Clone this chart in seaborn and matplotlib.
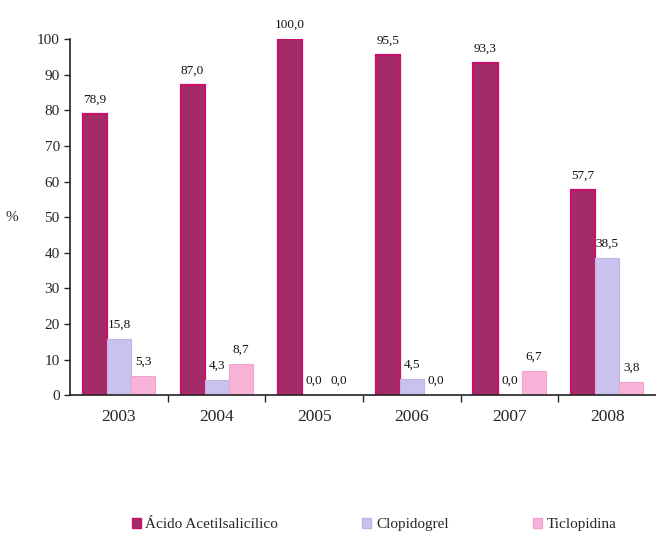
import matplotlib
matplotlib.use('Agg')
import matplotlib.pyplot as plt
import seaborn as sns
import pandas as pd
import numpy as np

# Data
years = ['2003', '2004', '2005', '2006', '2007', '2008']
acido = [78.9, 87.0, 100.0, 95.5, 93.3, 57.7]
clopidogrel = [15.8, 4.3, 0.0, 4.5, 0.0, 38.5]
ticlopidina = [5.3, 8.7, 0.0, 0.0, 6.7, 3.8]
series = ['Ácido Acetilsalicílico', 'Clopidogrel', 'Ticlopidina']

df = pd.DataFrame({
    'Año': years * 3,
    'Valor': acido + clopidogrel + ticlopidina,
    'Fármaco': [s for s in series for _ in years],
})

sns.set_style('white')
plt.rcParams['font.family'] = ['Liberation Serif', 'DejaVu Serif']

fills = ['#A32C68', '#C9C2EE', '#F8B4D8']
edges = ['#C8126A', '#BDB5E6', '#F2A2CC']

fig = plt.figure(figsize=(6.56, 5.37), dpi=100)
ax = fig.add_axes([0.107, 0.264, 0.893, 0.663])

sns.barplot(data=df, x='Año', y='Valor', hue='Fármaco', palette=fills,
            saturation=1, width=0.74, gap=0.0, ax=ax, legend=False)

for cont, ec in zip(ax.containers, edges):
    for bar in cont:
        bar.set_edgecolor(ec)
        bar.set_linewidth(1.6 if ec == edges[0] else 0.8)
    ax.bar_label(cont, labels=[f'{v:.1f}'.replace('.', ',') for v in cont.datavalues],
                 padding=6, fontsize=9.5, color='#111111')

ax.set_ylim(0, 100)
ax.set_xlim(-0.5, 5.5)
ax.set_yticks(range(0, 101, 10))
ax.tick_params(axis='y', labelsize=11, length=4, direction='out', left=True, width=1)
ax.tick_params(axis='x', which='major', length=0, labelsize=12.5, pad=10)
ax.set_xticks(np.arange(0.5, 5.5, 1), minor=True)
ax.tick_params(axis='x', which='minor', length=5, direction='out', bottom=True, width=1)
ax.set_xlabel('')
ax.set_ylabel('%', rotation=0, fontsize=11, labelpad=18, va='center')
for s in ['top', 'right']:
    ax.spines[s].set_visible(False)
for s in ['left', 'bottom']:
    ax.spines[s].set_color('#222222')
    ax.spines[s].set_linewidth(1.2)

handles = [plt.Rectangle((0, 0), 1, 1, facecolor=f, edgecolor=e) for f, e in zip(fills, edges)]
fig.legend(handles, series, loc='lower center', bbox_to_anchor=(0.57, -0.015), ncol=3,
           frameon=False, fontsize=11, handlelength=0.6, handleheight=0.6,
           handletextpad=0.3, columnspacing=5.5)

fig.savefig('out.png', dpi=100)
